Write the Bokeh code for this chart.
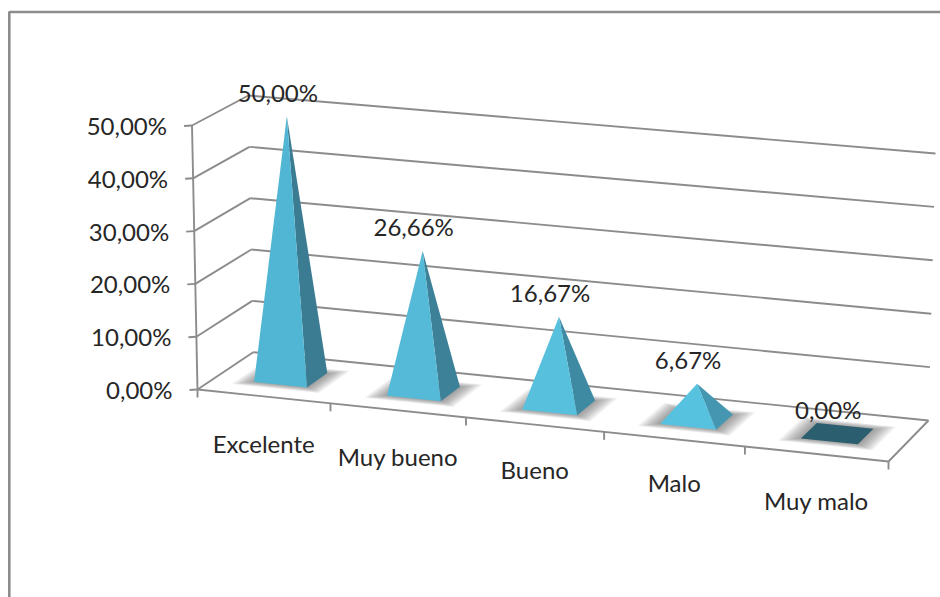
from bokeh.embed import file_html
from bokeh.models import ColumnDataSource, Range1d
from bokeh.plotting import figure
from bokeh.resources import INLINE
from bokeh.core.properties import value

categories = ["Excelente", "Muy bueno", "Bueno", "Malo", "Muy malo"]
values = [50.00, 26.66, 16.67, 6.67, 0.00]
tick_values = [0, 10, 20, 30, 40, 50]
tick_labels = ["0,00%", "10,00%", "20,00%", "30,00%", "40,00%", "50,00%"]
front_colors = ["#50B6D3", "#54BAD7", "#56C0DD", "#56C2E0", "#2B5F70"]
side_colors = ["#3B7C92", "#3C8198", "#3F8AA3", "#4596B0", "#2B5F70"]

FONT = "Lato"
GREY = "#8C8C8C"
TXT = "#262626"
FS = "24px"
CATEGORY_NUDGE = [47, 46, 45, 43, 47]

# corners of the 3D box as seen on the page
FB0, FB1 = (197.0, 389.0), (888.0, 461.0)
BB0, BB1 = (252.7, 351.7), (928.0, 420.0)
FT0, FT1 = (191.5, 125.0), (895.0, 189.0)
BT0, BT1 = (248.0, 95.0), (935.0, 153.0)
N = len(categories)
VMAX = max(tick_values)


def lerp(a, b, f):
    return (a[0] + (b[0] - a[0]) * f, a[1] + (b[1] - a[1]) * f)


def proj(u, t, v):
    """category position u, depth t (0 front, 1 back), value v -> page point"""
    x = u / N
    s = x / (1 + 0.049 * (1 - x))
    fb, bb = lerp(FB0, FB1, s), lerp(BB0, BB1, s)
    ft, bt = lerp(FT0, FT1, s), lerp(BT0, BT1, s)
    low, high = lerp(fb, bb, t), lerp(ft, bt, t)
    return lerp(low, high, v / VMAX)


p = figure(width=940, height=597, x_range=Range1d(0, 940), y_range=Range1d(597, 0),
           output_backend="svg", toolbar_location=None, min_border=0,
           background_fill_color="white", border_fill_color="white", outline_line_color=None)
p.xaxis.visible = False
p.yaxis.visible = False
p.grid.visible = False


def seg(a, b, w=1.9):
    p.line([a[0], b[0]], [a[1], b[1]], line_color=GREY, line_width=w)


# chart frame
p.line([8.8, 8.8, 940], [597, 11.5, 11.5], line_color=GREY, line_width=2.6)

# walls and floor
for v in tick_values:
    seg(proj(0, 0, v), proj(0, 1, v))
    seg(proj(0, 1, v), proj(N, 1, v))
seg(proj(0, 0, 0), proj(0, 0, VMAX))
seg(proj(0, 0, 0), proj(N, 0, 0))
seg(proj(N, 0, 0), proj(N, 1, 0))
for i in range(N + 1):
    a = proj(i, 0, 0)
    seg(a, (a[0], a[1] + 8))
for v in tick_values:
    a = proj(0, 0, v)
    seg(a, (a[0] - 8, a[1] + 0.5))

# soft shadows
for i in range(N):
    c = i + 0.5
    for k in range(10):
        du = 0.33 - 0.014 * k
        dt = 0.29 - 0.012 * k
        pts = [proj(c - du, 0.5 - dt, 0), proj(c + du, 0.5 - dt, 0),
               proj(c + du, 0.5 + dt, 0), proj(c - du, 0.5 + dt, 0)]
        p.patch([q[0] for q in pts], [q[1] for q in pts], fill_color="#555555",
                fill_alpha=0.075, line_color=None)

# pyramids
DU, DT = 0.2, 0.19
for i, val in enumerate(values):
    c = i + 0.5
    fl, fr = proj(c - DU, 0.5 - DT, 0), proj(c + DU, 0.5 - DT, 0)
    br, bl = proj(c + DU, 0.5 + DT, 0), proj(c - DU, 0.5 + DT, 0)
    tip = proj(c, 0.5, val)
    if val > 0:
        p.patch([fr[0], br[0], tip[0]], [fr[1], br[1], tip[1]], fill_color=side_colors[i], line_color=None)
        p.patch([fl[0], fr[0], tip[0]], [fl[1], fr[1], tip[1]], fill_color=front_colors[i], line_color=None)
    else:
        p.patch([fl[0], fr[0], br[0], bl[0]], [fl[1], fr[1], br[1], bl[1]],
                fill_color=front_colors[i], line_color=None)


def labels(xs, ys, texts, align):
    src = ColumnDataSource(dict(x=xs, y=ys, t=texts))
    p.text("x", "y", "t", source=src, text_font=value(FONT), text_font_size=value(FS),
           text_color=TXT, text_align=align, text_baseline="middle")


# value axis labels
ax = [proj(0, 0, v) for v in tick_values]
labels([a[0] - 25 for a in ax], [a[1] for a in ax], tick_labels, "right")

# category labels
cp = [proj(i + 0.5, 0, 0) for i in range(N)]
labels([a[0] for a in cp], [a[1] + d for a, d in zip(cp, CATEGORY_NUDGE)], categories, "center")

# data labels
tips = [proj(i + 0.5, 0.5, v) for i, v in enumerate(values)]
dl = [f"{v:.2f}".replace(".", ",") + "%" for v in values]
labels([a[0] - 9 for a in tips], [a[1] - 24 for a in tips], dl, "center")

open("out.html", "w").write(file_html(p, INLINE))
